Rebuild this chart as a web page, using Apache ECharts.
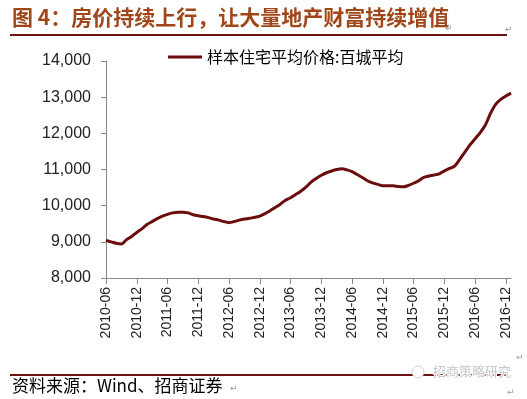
<!DOCTYPE html>
<html lang="zh">
	<head>
		<meta charset="UTF-8">
		<title></title>
		<style type="text/css">
			html,
			body {
				width: 100%;
				height: 100%;
				margin: 0;
				padding: 0;
				background: #fff;
			}

			#main {
				width: 527px;
				height: 399px;
			}
		</style>
	</head>
	<body>
		<div id="main"></div>

		<script src="https://cdn.jsdelivr.net/npm/echarts@6/dist/echarts.min.js" type="text/javascript" charset="utf-8"></script>
		<script type="text/javascript">
			let titleText = '图 4：房价持续上行，让大量地产财富持续增值';
			let sourceText = '资料来源：Wind、招商证券';
			let seriesName = '样本住宅平均价格:百城平均';

			// 2010-06 ... 2017-01, monthly
			let months = [];
			for (let y = 2010; y <= 2017; y++) {
				for (let m = 1; m <= 12; m++) {
					if ((y === 2010 && m < 6) || (y === 2017 && m > 1)) continue;
					months.push(y + '-' + (m < 10 ? '0' + m : m));
				}
			}

			let prices = [
				9040, 9000, 8960, 8940, 9060, 9150, 9260, 9360, 9480, 9560, 9640, 9710,
				9760, 9800, 9820, 9820, 9800, 9750, 9720, 9700, 9670, 9630, 9600, 9560,
				9530, 9560, 9600, 9630, 9650, 9680, 9710, 9780, 9860, 9950, 10040, 10150,
				10220, 10310, 10400, 10510, 10650, 10750, 10840, 10910, 10960, 11000, 11020, 10990,
				10940, 10860, 10780, 10690, 10630, 10590, 10550, 10550, 10550, 10530, 10520, 10560,
				10620, 10690, 10780, 10820, 10850, 10880, 10960, 11030, 11090, 11280, 11480, 11680,
				11850, 12020, 12230, 12550, 12800, 12940, 13030, 13110
			];

			let yMin = 8000;
			let yMax = 14000;
			let yStep = 1000;

			let everySix = function(idx) {
				return idx % 6 === 0;
			};

			var myChart = echarts.init(document.getElementById('main'));
			var option = {
				animation: false,
				textStyle: {
					fontFamily: 'Liberation Sans'
				},
				grid: {
					left: 106,
					right: 16,
					top: 61,
					bottom: 121
				},
				legend: {
					left: 163,
					top: 44,
					icon: 'rect',
					itemWidth: 34,
					itemHeight: 3,
					textStyle: {
						fontFamily: 'Noto Sans CJK SC',
						fontSize: 16,
						color: '#000'
					},
					data: [seriesName]
				},
				xAxis: {
					type: 'category',
					boundaryGap: false,
					data: months,
					axisLine: {
						lineStyle: {
							color: '#888'
						}
					},
					axisTick: {
						interval: everySix,
						length: 6,
						lineStyle: {
							color: '#888'
						}
					},
					axisLabel: {
						interval: everySix,
						rotate: 90,
						margin: 9,
						fontSize: 14,
						color: '#222'
					}
				},
				yAxis: {
					type: 'value',
					min: yMin,
					max: yMax,
					interval: yStep,
					axisLine: {
						show: true,
						lineStyle: {
							color: '#888'
						}
					},
					axisTick: {
						show: true,
						length: 5,
						lineStyle: {
							color: '#888'
						}
					},
					splitLine: {
						show: false
					},
					axisLabel: {
						margin: 15,
						fontSize: 16,
						color: '#222',
						formatter: function(v) {
							return v.toLocaleString('en-US');
						}
					}
				},
				series: [{
					name: seriesName,
					type: 'line',
					data: prices,
					showSymbol: false,
					smooth: 0.3,
					color: '#6b0d0d',
					lineStyle: {
						width: 3,
						color: '#6b0d0d'
					}
				}],
				graphic: [{
						type: 'text',
						left: 12,
						top: 7,
						style: {
							text: titleText,
							fontFamily: 'Noto Sans CJK SC',
							fontWeight: 'bold',
							fontSize: 21,
							fill: '#a0471a'
						}
					},
					{
						type: 'line',
						shape: { x1: 10, y1: 35, x2: 507, y2: 35 },
						style: { stroke: '#6b1212', lineWidth: 2 }
					},
					{
						type: 'line',
						shape: { x1: 10, y1: 375, x2: 507, y2: 375 },
						style: { stroke: '#6b1212', lineWidth: 2 }
					},
					{
						type: 'text',
						left: 12,
						top: 377,
						style: {
							text: sourceText,
							fontFamily: 'Noto Sans CJK SC',
							fontSize: 17,
							fill: '#000'
						}
					},
					{
						type: 'circle',
						shape: { cx: 418, cy: 372, r: 6 },
						style: { fill: '#fff', stroke: '#ccc', lineWidth: 1 }
					},
					{
						type: 'text',
						left: 432,
						top: 364,
						style: {
							text: '招商策略研究',
							fontFamily: 'Noto Sans CJK SC',
							fontSize: 13,
							fill: '#c8c8c8',
							stroke: '#fff',
							lineWidth: 2
						}
					},
					{
						type: 'text', left: 445, top: 24,
						style: { text: '↵', fontFamily: 'DejaVu Sans', fontSize: 9, fill: '#999' }
					},
					{
						type: 'text', left: 505, top: 25,
						style: { text: '↵', fontFamily: 'DejaVu Sans', fontSize: 9, fill: '#999' }
					},
					{
						type: 'text', left: 516, top: 353,
						style: { text: '↵', fontFamily: 'DejaVu Sans', fontSize: 9, fill: '#999' }
					},
					{
						type: 'text', left: 230, top: 384,
						style: { text: '↵', fontFamily: 'DejaVu Sans', fontSize: 9, fill: '#999' }
					},
					{
						type: 'text', left: 507, top: 388,
						style: { text: '↵', fontFamily: 'DejaVu Sans', fontSize: 9, fill: '#999' }
					}
				]
			};

			myChart.setOption(option);

			window.onresize = function() {
				myChart.resize();
			}
		</script>
	</body>
</html>
